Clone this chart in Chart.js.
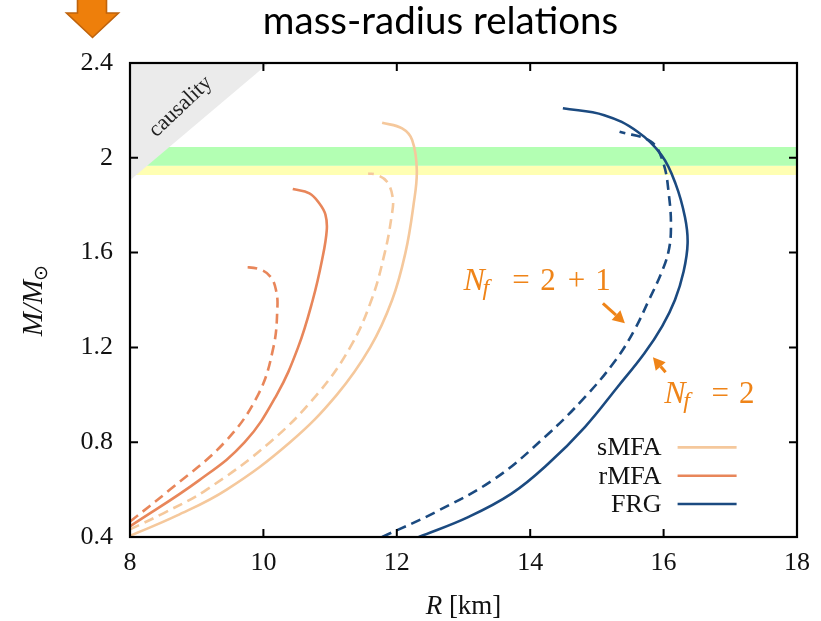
<!DOCTYPE html>
<html><head><meta charset="utf-8">
<script src="https://cdn.jsdelivr.net/npm/chart.js@4.4.1/dist/chart.umd.min.js"></script>
<style>html,body{margin:0;padding:0;background:#fff;}#wrap{width:821px;height:621px;}</style>
</head><body><div id="wrap"><canvas id="c" width="821" height="621"></canvas></div>
<script>
// ---- axis ticks ----
const xTicks = [8, 10, 12, 14, 16, 18];
const xTickLabels = ['8', '10', '12', '14', '16', '18'];
const yTicks = [0.4, 0.8, 1.2, 1.6, 2.0, 2.4];
const yTickLabels = ['0.4', '0.8', '1.2', '1.6', '2', '2.4'];

// ---- mass-radius curves (R in km, M in solar masses) ----
const sMFA_solid_R = [8.0, 8.7, 9.45, 10.4, 11.1, 11.6, 11.93, 12.13, 12.25, 12.30, 12.23, 12.08, 11.78];
const sMFA_solid_M = [0.405, 0.49, 0.60, 0.80, 1.00, 1.20, 1.40, 1.60, 1.80, 1.948, 2.075, 2.124, 2.148];
const sMFA_dash_R = [8.0, 8.5, 9.15, 10.1, 10.8, 11.3, 11.62, 11.82, 11.92, 11.94, 11.85, 11.7, 11.57];
const sMFA_dash_M = [0.432, 0.50, 0.60, 0.80, 1.00, 1.20, 1.40, 1.60, 1.75, 1.83, 1.90, 1.928, 1.934];
const rMFA_solid_R = [8.0, 9.04, 9.72, 10.2, 10.52, 10.74, 10.88, 10.95, 10.93, 10.84, 10.69, 10.44];
const rMFA_solid_M = [0.445, 0.64, 0.80, 1.00, 1.20, 1.40, 1.57, 1.695, 1.76, 1.807, 1.85, 1.868];
const rMFA_dash_R = [8.0, 8.6, 9.42, 9.92, 10.15, 10.21, 10.19, 10.11, 9.94, 9.69];
const rMFA_dash_M = [0.465, 0.60, 0.80, 1.00, 1.20, 1.37, 1.44, 1.497, 1.53, 1.54];
const FRG_solid_R = [12.33, 13.07, 13.72, 14.27, 14.82, 15.31, 15.71, 15.98, 16.17, 16.30, 16.36, 16.32, 16.18, 15.97, 15.61, 15.11, 14.49];
const FRG_solid_M = [0.40, 0.484, 0.583, 0.709, 0.864, 1.033, 1.174, 1.29, 1.40, 1.52, 1.64, 1.75, 1.89, 2.011, 2.11, 2.18, 2.209];
const FRG_dash_R = [11.78, 12.58, 13.47, 14.22, 14.82, 15.28, 15.56, 15.78, 15.96, 16.07, 16.11, 16.08, 15.99, 15.81, 15.34];
const FRG_dash_M = [0.40, 0.505, 0.646, 0.822, 0.99, 1.146, 1.272, 1.40, 1.51, 1.60, 1.70, 1.842, 1.983, 2.068, 2.11];

// ---- shaded regions ----
const causality_R = [8.0, 10.08];
const causality_M = [1.905, 2.4];
const bandGreen_M = [1.966, 2.046];
const bandYellow_M = [1.927, 1.966];
const band_R = [8, 18];

// ---- colours ----
const C_S = '#f5c89c', C_R = '#e8865a', C_F = '#1b4a80';
const ORANGE = '#ef8418';

const pts = (R, M) => R.map((r, i) => ({x: r, y: M[i]}));
const curve = (label, R, M, color, dashed, legend) => ({
  label, data: pts(R, M), showLine: true, borderColor: color, backgroundColor: color,
  borderWidth: 2.6, borderDash: dashed ? [10, 6] : [], pointRadius: 0, tension: 0.4,
  fill: false, clip: 0, legendEntry: legend
});

const datasets = [
  curve('sMFA', sMFA_solid_R, sMFA_solid_M, C_S, false, true),
  curve('sMFA (2+1)', sMFA_dash_R, sMFA_dash_M, C_S, true, false),
  curve('rMFA', rMFA_solid_R, rMFA_solid_M, C_R, false, true),
  curve('rMFA (2+1)', rMFA_dash_R, rMFA_dash_M, C_R, true, false),
  curve('FRG', FRG_solid_R, FRG_solid_M, C_F, false, true),
  curve('FRG (2+1)', FRG_dash_R, FRG_dash_M, C_F, true, false),
  {label: 'causality', data: pts(causality_R, causality_M), showLine: true, borderWidth: 0,
   pointRadius: 0, backgroundColor: '#ebebeb', borderColor: 'rgba(0,0,0,0)', fill: 'end', clip: 0, tension: 0},
  {label: 'band1', data: band_R.map(r => ({x: r, y: bandGreen_M[1]})), showLine: true, borderWidth: 0,
   pointRadius: 0, backgroundColor: '#b3ffb3', borderColor: 'rgba(0,0,0,0)', fill: {value: bandGreen_M[0]}, clip: 0},
  {label: 'band2', data: band_R.map(r => ({x: r, y: bandYellow_M[1]})), showLine: true, borderWidth: 0,
   pointRadius: 0, backgroundColor: '#ffffb3', borderColor: 'rgba(0,0,0,0)', fill: {value: bandYellow_M[0]}, clip: 0}
];

const SERIF = '"Liberation Serif", "Times New Roman", serif';

const framePlugin = {
  id: 'frame',
  afterDatasetsDraw(chart) {
    const {ctx, chartArea: a, scales: {x, y}} = chart;
    ctx.save();
    ctx.strokeStyle = '#000';
    ctx.lineWidth = 2.2;
    ctx.strokeRect(a.left, a.top, a.right - a.left, a.bottom - a.top);
    ctx.lineWidth = 2;
    const L = 8;
    ctx.beginPath();
    xTicks.forEach(v => {
      const px = x.getPixelForValue(v);
      if (px <= a.left + 1 || px >= a.right - 1) return;
      ctx.moveTo(px, a.bottom); ctx.lineTo(px, a.bottom - L);
      ctx.moveTo(px, a.top); ctx.lineTo(px, a.top + L);
    });
    yTicks.forEach(v => {
      const py = y.getPixelForValue(v);
      if (py <= a.top + 1 || py >= a.bottom - 1) return;
      ctx.moveTo(a.left, py); ctx.lineTo(a.left + L, py);
      ctx.moveTo(a.right, py); ctx.lineTo(a.right - L, py);
    });
    ctx.stroke();

    // causality label
    const cx = x.getPixelForValue(8.76), cy = y.getPixelForValue(2.216);
    ctx.translate(cx, cy);
    ctx.rotate(-43.5 * Math.PI / 180);
    ctx.fillStyle = '#222';
    ctx.font = '22px ' + SERIF;
    ctx.textAlign = 'center'; ctx.textBaseline = 'middle';
    ctx.fillText('causality', 0, 0);
    ctx.restore();

    // legend
    ctx.save();
    const entries = chart.data.datasets.filter(d => d.legendEntry);
    const lx = x.getPixelForValue(15.97);
    const l0 = y.getPixelForValue(0.778);
    ctx.font = '26px ' + SERIF;
    ctx.textAlign = 'right'; ctx.textBaseline = 'middle';
    entries.forEach((d, i) => {
      const ly = l0 + i * 28.3;
      ctx.fillStyle = '#111';
      ctx.fillText(d.label, lx, ly + 1);
      ctx.strokeStyle = d.borderColor; ctx.lineWidth = 2.6;
      ctx.beginPath(); ctx.moveTo(lx + 16, ly); ctx.lineTo(lx + 75, ly); ctx.stroke();
    });
    ctx.restore();
  }
};

function arrow(ctx, x0, y0, x1, y1, color) {
  const ang = Math.atan2(y1 - y0, x1 - x0);
  const hl = 12, hw = 6.5;
  const bx = x1 - hl * Math.cos(ang), by = y1 - hl * Math.sin(ang);
  ctx.strokeStyle = color; ctx.fillStyle = color; ctx.lineWidth = 3;
  ctx.beginPath(); ctx.moveTo(x0, y0); ctx.lineTo(bx, by); ctx.stroke();
  ctx.beginPath();
  ctx.moveTo(x1, y1);
  ctx.lineTo(bx + hw * Math.sin(ang), by - hw * Math.cos(ang));
  ctx.lineTo(bx - hw * Math.sin(ang), by + hw * Math.cos(ang));
  ctx.closePath(); ctx.fill();
}

function nfLabel(ctx, px, py, rest) {
  ctx.fillStyle = ORANGE;
  ctx.textBaseline = 'alphabetic';
  ctx.textAlign = 'left';
  ctx.font = 'italic 32px ' + SERIF;
  ctx.fillText('N', px, py);
  ctx.font = 'italic 24px ' + SERIF;
  ctx.fillText('f', px + 19, py + 5);
  ctx.font = '31px ' + SERIF;
  ctx.textAlign = 'center';
  rest.forEach(([t, off]) => ctx.fillText(t, px + off, py));
}

const annotPlugin = {
  id: 'annot',
  afterDraw(chart) {
    const {ctx, scales: {x, y}, chartArea: a} = chart;
    ctx.save();
    // title
    const title = 'mass-radius relations';
    let fs = 40;
    ctx.font = fs + 'px Lato, "Open Sans", sans-serif';
    const w = ctx.measureText(title).width;
    fs = fs * 355 / w;
    ctx.font = fs.toFixed(1) + 'px Lato, "Open Sans", sans-serif';
    ctx.fillStyle = '#000';
    ctx.textAlign = 'center'; ctx.textBaseline = 'alphabetic';
    ctx.fillText(title, 440.5, 34);

    // orange block arrow (top-left)
    ctx.beginPath();
    ctx.moveTo(77.5, -3); ctx.lineTo(106.5, -3); ctx.lineTo(106.5, 13); ctx.lineTo(118.5, 13);
    ctx.lineTo(92.5, 37.5); ctx.lineTo(66.5, 13); ctx.lineTo(77.5, 13); ctx.closePath();
    ctx.fillStyle = '#ee7f0b'; ctx.fill();
    ctx.strokeStyle = '#bf630c'; ctx.lineWidth = 1.6; ctx.stroke();

    // axis titles
    ctx.fillStyle = '#111';
    ctx.textBaseline = 'alphabetic';
    ctx.font = 'italic 27px ' + SERIF;
    const rW = ctx.measureText('R').width;
    ctx.font = '27px ' + SERIF;
    const kW = ctx.measureText(' [km]').width;
    const xc = (a.left + a.right) / 2;
    let sx = xc - (rW + kW) / 2;
    ctx.textAlign = 'left';
    ctx.font = 'italic 27px ' + SERIF; ctx.fillText('R', sx, 614);
    ctx.font = '27px ' + SERIF; ctx.fillText(' [km]', sx + rW, 614);

    ctx.save();
    ctx.translate(42, (a.top + a.bottom) / 2);
    ctx.rotate(-Math.PI / 2);
    ctx.font = 'italic 29px ' + SERIF;
    const m1 = ctx.measureText('M/M').width;
    ctx.font = '19px ' + SERIF;
    const m2 = ctx.measureText('⊙').width;
    let tx = -(m1 + m2) / 2;
    ctx.textAlign = 'left';
    ctx.font = 'italic 29px ' + SERIF; ctx.fillText('M/M', tx, 0);
    ctx.font = '19px ' + SERIF; ctx.fillText('⊙', tx + m1 - 1, 5);
    ctx.restore();

    // Nf annotations
    nfLabel(ctx, x.getPixelForValue(13.0), y.getPixelForValue(1.441),
      [['=', 57.5], ['2', 84.5], ['+', 113], ['1', 139.5]]);
    nfLabel(ctx, x.getPixelForValue(16.01), y.getPixelForValue(0.964),
      [['=', 56], ['2', 82.5]]);
    arrow(ctx, x.getPixelForValue(15.09), y.getPixelForValue(1.386),
               x.getPixelForValue(15.42), y.getPixelForValue(1.302), ORANGE);
    arrow(ctx, x.getPixelForValue(16.03), y.getPixelForValue(1.095),
               x.getPixelForValue(15.84), y.getPixelForValue(1.158), ORANGE);
    ctx.restore();
  }
};

new Chart(document.getElementById('c'), {
  type: 'scatter',
  data: {datasets},
  options: {
    responsive: false, animation: false, devicePixelRatio: 1,
    layout: {padding: {top: 63, right: 21, left: 0, bottom: 0}},
    plugins: {legend: {display: false}, tooltip: {enabled: false}, title: {display: false}},
    scales: {
      x: {
        type: 'linear', position: 'bottom', min: 8, max: 18,
        afterFit(s) { s.height = 84; },
        afterBuildTicks(s) { s.ticks = xTicks.map(v => ({value: v})); },
        ticks: {callback: (v, i) => xTickLabels[i], font: {family: SERIF, size: 26}, color: '#111',
                padding: 11, maxRotation: 0, autoSkip: false},
        grid: {display: false, drawTicks: false}, border: {display: false}
      },
      y: {
        type: 'linear', position: 'left', min: 0.4, max: 2.4,
        afterFit(s) { s.width = 130; },
        afterBuildTicks(s) { s.ticks = yTicks.map(v => ({value: v})); },
        ticks: {callback: (v, i) => yTickLabels[i], font: {family: SERIF, size: 26}, color: '#111',
                padding: 17, autoSkip: false},
        grid: {display: false, drawTicks: false}, border: {display: false}
      }
    }
  },
  plugins: [framePlugin, annotPlugin]
});
</script></body></html>
